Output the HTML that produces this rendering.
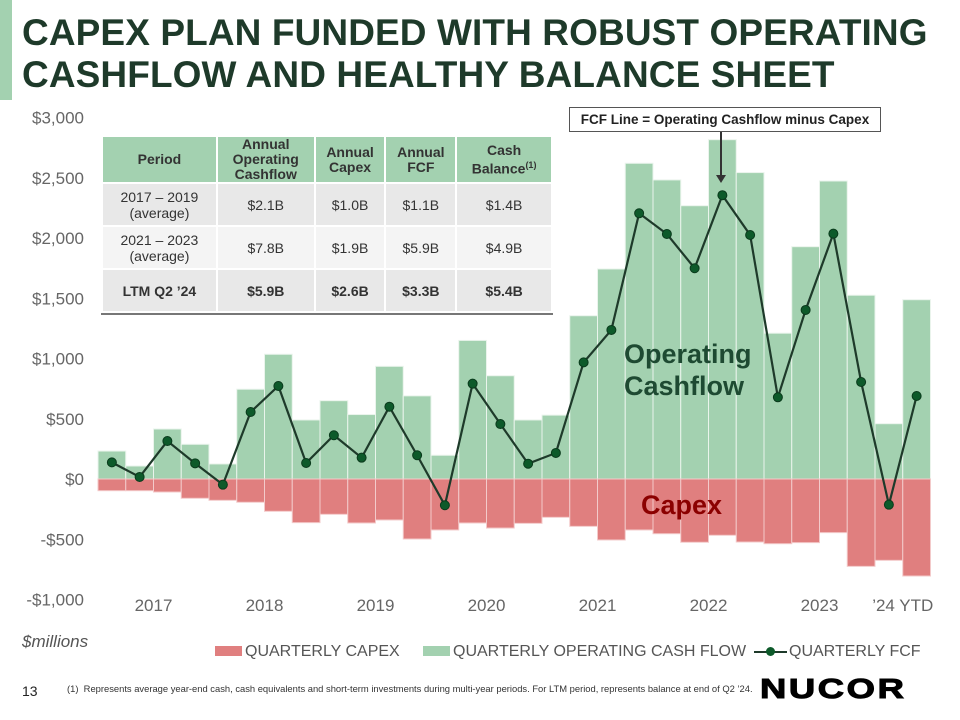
<!DOCTYPE html>
<html><head><meta charset="utf-8"><style>
body{margin:0;width:960px;height:720px;background:#fff;overflow:hidden;position:relative;font-family:"Liberation Sans",sans-serif}
.abs{position:absolute}
#title{left:22px;top:12px;font-size:37px;font-weight:bold;color:#1e3a2a;line-height:42px;letter-spacing:0.1px}
table{border-collapse:separate;border-spacing:2px;font-size:14px;color:#333}
th{background:#a3d1b0;color:#333;font-weight:bold;line-height:15px;height:44px;padding:0}
td{text-align:center;height:41px;padding:0}
.r1 td,.r3 td{background:#e8e8e8}.r2 td{background:#f4f4f4}
.r3 td{font-weight:bold}
</style></head><body>
<div class="abs" style="left:0;top:0;width:12px;height:100px;background:#a3d1b0"></div>
<div id="title" class="abs">CAPEX PLAN FUNDED WITH ROBUST OPERATING<br>CASHFLOW AND HEALTHY BALANCE SHEET</div>
<svg id="chart" class="abs" style="left:0;top:0" width="960" height="720"></svg>
<table class="abs" style="left:101px;top:135px;width:452px;border-bottom:2px solid #777">
<tr><th>Period</th><th>Annual<br>Operating<br>Cashflow</th><th>Annual<br>Capex</th><th>Annual<br>FCF</th><th>Cash<br>Balance<sup style="font-size:9px">(1)</sup></th></tr>
<tr class="r1"><td>2017 – 2019<br>(average)</td><td>$2.1B</td><td>$1.0B</td><td>$1.1B</td><td>$1.4B</td></tr>
<tr class="r2"><td>2021 – 2023<br>(average)</td><td>$7.8B</td><td>$1.9B</td><td>$5.9B</td><td>$4.9B</td></tr>
<tr class="r3"><td>LTM Q2 ’24</td><td>$5.9B</td><td>$2.6B</td><td>$3.3B</td><td>$5.4B</td></tr>
</table>
<div class="abs" style="left:569px;top:107px;width:310px;height:23px;border:1px solid #555;background:#fff;font-size:13.5px;font-weight:bold;color:#222;text-align:center;line-height:23px">FCF Line = Operating Cashflow minus Capex</div>
<div class="abs" style="left:624px;top:338px;font-size:27px;font-weight:bold;color:#1e4a32;line-height:32px">Operating<br>Cashflow</div>
<div class="abs" style="left:641px;top:490px;font-size:27px;font-weight:bold;color:#8b0000">Capex</div>
<div class="abs" style="left:22px;top:632px;font-size:17px;font-style:italic;color:#555">$millions</div>
<div class="abs" style="left:215px;top:643px;font-size:16px;color:#555;white-space:nowrap"><span style="display:inline-block;width:27px;height:10px;background:#e07f7f;margin-right:3px"></span>QUARTERLY CAPEX</div>
<div class="abs" style="left:423px;top:643px;font-size:16px;color:#555;white-space:nowrap"><span style="display:inline-block;width:27px;height:10px;background:#a3d1b0;margin-right:3px"></span>QUARTERLY OPERATING CASH FLOW</div>
<div class="abs" style="left:754px;top:643px;font-size:16px;color:#555;white-space:nowrap"><span style="display:inline-block;width:33px;height:2px;background:#1e3a2a;vertical-align:middle;position:relative;margin-right:2px"><span style="position:absolute;left:12px;top:-4px;width:9px;height:9px;border-radius:50%;background:#0d5a2a"></span></span>QUARTERLY FCF</div>
<div class="abs" style="left:22px;top:683px;font-size:14px;color:#222">13</div>
<div class="abs" style="left:67px;top:683px;font-size:9.4px;color:#333;white-space:nowrap">(1)&nbsp; Represents average year-end cash, cash equivalents and short-term investments during multi-year periods. For LTM period, represents balance at end of Q2 ’24.</div>
<div class="abs" style="left:760px;top:674px;font-size:28px;line-height:30px;font-weight:900;color:#000;letter-spacing:2px;transform:scaleX(1.3);transform-origin:left;-webkit-text-stroke:1px #000">NUCOR</div>
<script>
const years=["2017","2018","2019","2020","2021","2022","2023","’24 YTD"];
const ocf=[232,108,415,288,125,745,1035,490,650,535,935,690,197,1150,857,490,530,1355,1743,2620,2482,2268,2816,2543,1210,1928,2473,1525,459,1488];
const capex=[-97,-97,-108,-160,-177,-193,-268,-362,-293,-365,-340,-498,-423,-365,-407,-368,-318,-393,-506,-423,-454,-525,-467,-523,-537,-528,-445,-725,-675,-805];
const fcf=[138,17,315,130,-47,556,772,133,363,177,600,197,-218,791,456,127,216,968,1237,2205,2033,1749,2355,2025,678,1403,2036,805,-213,689];
const yTicks=[3000,2500,2000,1500,1000,500,0,-500,-1000];
const yLabels=["$3,000","$2,500","$2,000","$1,500","$1,000","$500","$0","-$500","-$1,000"];
const svg=document.getElementById('chart');const NS="http://www.w3.org/2000/svg";
const x0=98,bw=27.75;
const y=v=>479-v*0.1205;
const xc=i=>x0+bw*(i+0.5);
function mk(t,a){const e=document.createElementNS(NS,t);for(const k in a)e.setAttribute(k,a[k]);svg.appendChild(e);return e;}
yTicks.forEach((v,i)=>{const t=mk('text',{x:84,y:y(v)+6,'text-anchor':'end','font-size':17,fill:'#666','font-family':'Liberation Sans, sans-serif'});t.textContent=yLabels[i];

});
years.forEach((s,i)=>{const n=i<7?4:2;const t=mk('text',{x:x0+bw*(i*4+n/2),y:611,'text-anchor':'middle','font-size':17,fill:'#666','font-family':'Liberation Sans, sans-serif'});t.textContent=s;

});
ocf.forEach((v,i)=>{const r=mk('rect',{x:x0+bw*i,y:y(v),width:bw,height:y(0)-y(v),fill:'#a3d1b0',stroke:'#eaf4ec','stroke-width':1});

});
capex.forEach((v,i)=>{const r=mk('rect',{x:x0+bw*i,y:y(0),width:bw,height:y(v)-y(0),fill:'#e07f7f',stroke:'#f3caca','stroke-width':1});

});
const l=mk('polyline',{points:fcf.map((v,i)=>xc(i)+','+y(v)).join(' '),fill:'none',stroke:'#1e3a2a','stroke-width':2.2});


fcf.forEach((v,i)=>{const c=mk('circle',{cx:xc(i),cy:y(v),r:4.5,fill:'#0d5a2a',stroke:'#0a3a1c','stroke-width':1});

});
const a=mk('line',{x1:721,y1:131,x2:721,y2:176,stroke:'#333','stroke-width':2});


const h=mk('polygon',{points:'716,175 726,175 721,183',fill:'#333'});


</script>
</body></html>
